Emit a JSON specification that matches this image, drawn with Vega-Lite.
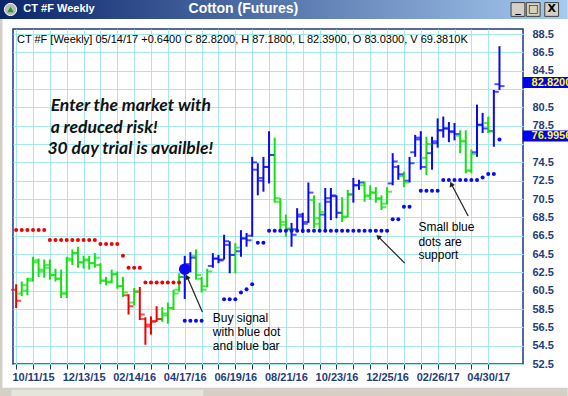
{
  "$schema": "https://vega.github.io/schema/vega-lite/v6.json",
  "width": 510,
  "height": 335,
  "autosize": {"type": "none"},
  "padding": {"left": 13, "top": 29, "right": 45, "bottom": 32},
  "background": "#ffffff",
  "config": {
    "view": {"stroke": "#1c3a7a", "strokeWidth": 1.5},
    "font": "Liberation Sans",
    "text": {"font": "Liberation Sans"}
  },
  "resolve": {"axis": {"x": "independent", "y": "independent"}},
  "datasets": {
    "bars": [
      {"date":"2015-09-20","open":60.6,"high":61.2,"low":58.6,"close":59.4,"trend":"bear"},
      {"date":"2015-09-27","open":60.2,"high":61.5,"low":59.9,"close":61.1,"trend":"neutral"},
      {"date":"2015-10-04","open":60.5,"high":61.9,"low":60.0,"close":61.6,"trend":"neutral"},
      {"date":"2015-10-11","open":61.8,"high":64.2,"low":61.5,"close":63.8,"trend":"neutral"},
      {"date":"2015-10-18","open":63.6,"high":64.0,"low":62.0,"close":62.8,"trend":"neutral"},
      {"date":"2015-10-25","open":62.6,"high":63.9,"low":61.9,"close":63.3,"trend":"neutral"},
      {"date":"2015-11-01","open":63.0,"high":63.9,"low":61.7,"close":62.2,"trend":"neutral"},
      {"date":"2015-11-08","open":62.2,"high":62.9,"low":61.5,"close":61.8,"trend":"neutral"},
      {"date":"2015-11-15","open":61.8,"high":62.8,"low":59.7,"close":60.2,"trend":"neutral"},
      {"date":"2015-11-22","open":60.2,"high":64.2,"low":59.7,"close":64.0,"trend":"neutral"},
      {"date":"2015-11-29","open":63.8,"high":65.0,"low":63.3,"close":64.6,"trend":"neutral"},
      {"date":"2015-12-06","open":64.6,"high":65.3,"low":63.0,"close":63.6,"trend":"neutral"},
      {"date":"2015-12-13","open":63.6,"high":64.3,"low":62.9,"close":63.9,"trend":"neutral"},
      {"date":"2015-12-20","open":63.8,"high":64.3,"low":62.8,"close":63.5,"trend":"neutral"},
      {"date":"2015-12-27","open":63.5,"high":64.6,"low":63.0,"close":64.1,"trend":"neutral"},
      {"date":"2016-01-03","open":63.3,"high":63.5,"low":61.2,"close":61.6,"trend":"neutral"},
      {"date":"2016-01-10","open":61.6,"high":62.0,"low":61.1,"close":61.4,"trend":"neutral"},
      {"date":"2016-01-17","open":61.5,"high":62.8,"low":61.3,"close":62.3,"trend":"neutral"},
      {"date":"2016-01-24","open":62.3,"high":62.6,"low":60.7,"close":61.0,"trend":"neutral"},
      {"date":"2016-01-31","open":61.0,"high":62.0,"low":59.8,"close":60.3,"trend":"neutral"},
      {"date":"2016-02-07","open":60.0,"high":60.1,"low":57.9,"close":58.8,"trend":"bear"},
      {"date":"2016-02-14","open":59.2,"high":60.8,"low":58.9,"close":60.4,"trend":"neutral"},
      {"date":"2016-02-21","open":60.4,"high":60.9,"low":57.3,"close":57.9,"trend":"bear"},
      {"date":"2016-02-28","open":57.4,"high":57.6,"low":54.6,"close":56.8,"trend":"bear"},
      {"date":"2016-03-06","open":56.6,"high":57.7,"low":55.7,"close":57.1,"trend":"bear"},
      {"date":"2016-03-13","open":57.2,"high":58.8,"low":57.1,"close":57.4,"trend":"bear"},
      {"date":"2016-03-20","open":57.4,"high":58.7,"low":57.1,"close":58.0,"trend":"neutral"},
      {"date":"2016-03-27","open":57.8,"high":59.2,"low":56.9,"close":58.6,"trend":"neutral"},
      {"date":"2016-04-03","open":58.6,"high":60.6,"low":58.4,"close":60.2,"trend":"neutral"},
      {"date":"2016-04-10","open":60.6,"high":62.4,"low":60.4,"close":62.0,"trend":"neutral"},
      {"date":"2016-04-17","open":62.0,"high":64.3,"low":59.6,"close":63.2,"trend":"bull"},
      {"date":"2016-04-24","open":63.4,"high":64.7,"low":62.5,"close":64.1,"trend":"bull"},
      {"date":"2016-05-01","open":64.3,"high":65.0,"low":61.7,"close":62.2,"trend":"neutral"},
      {"date":"2016-05-08","open":61.8,"high":62.0,"low":60.3,"close":60.6,"trend":"neutral"},
      {"date":"2016-05-15","open":61.0,"high":62.9,"low":60.9,"close":62.6,"trend":"neutral"},
      {"date":"2016-05-22","open":63.2,"high":64.6,"low":63.0,"close":64.0,"trend":"bull"},
      {"date":"2016-05-29","open":64.0,"high":64.4,"low":63.5,"close":63.8,"trend":"bull"},
      {"date":"2016-06-05","open":63.9,"high":66.6,"low":63.9,"close":65.9,"trend":"bull"},
      {"date":"2016-06-12","open":65.5,"high":65.9,"low":62.4,"close":64.4,"trend":"bull"},
      {"date":"2016-06-19","open":64.4,"high":65.7,"low":62.4,"close":65.2,"trend":"neutral"},
      {"date":"2016-06-26","open":64.8,"high":67.1,"low":64.2,"close":66.2,"trend":"bull"},
      {"date":"2016-07-03","open":66.2,"high":66.8,"low":65.3,"close":66.0,"trend":"bull"},
      {"date":"2016-07-10","open":66.5,"high":75.1,"low":66.4,"close":74.5,"trend":"bull"},
      {"date":"2016-07-17","open":73.7,"high":74.4,"low":70.9,"close":72.5,"trend":"bull"},
      {"date":"2016-07-24","open":72.8,"high":75.1,"low":71.3,"close":74.0,"trend":"bull"},
      {"date":"2016-07-31","open":74.0,"high":77.9,"low":72.2,"close":75.3,"trend":"bull"},
      {"date":"2016-08-07","open":75.3,"high":77.2,"low":70.1,"close":70.6,"trend":"neutral"},
      {"date":"2016-08-14","open":70.2,"high":70.6,"low":67.1,"close":68.0,"trend":"neutral"},
      {"date":"2016-08-21","open":67.7,"high":68.8,"low":66.4,"close":67.3,"trend":"neutral"},
      {"date":"2016-08-28","open":67.2,"high":67.9,"low":65.3,"close":66.6,"trend":"bull"},
      {"date":"2016-09-04","open":67.2,"high":69.5,"low":67.1,"close":68.8,"trend":"bull"},
      {"date":"2016-09-11","open":68.6,"high":69.0,"low":66.8,"close":67.8,"trend":"bull"},
      {"date":"2016-09-18","open":68.0,"high":72.3,"low":67.9,"close":71.2,"trend":"bull"},
      {"date":"2016-09-25","open":70.4,"high":70.9,"low":67.3,"close":67.8,"trend":"neutral"},
      {"date":"2016-10-02","open":68.4,"high":70.1,"low":67.1,"close":69.1,"trend":"neutral"},
      {"date":"2016-10-09","open":68.8,"high":71.7,"low":66.9,"close":70.6,"trend":"bull"},
      {"date":"2016-10-16","open":70.2,"high":71.7,"low":68.2,"close":70.9,"trend":"bull"},
      {"date":"2016-10-23","open":70.8,"high":70.9,"low":68.4,"close":69.0,"trend":"bull"},
      {"date":"2016-10-30","open":69.0,"high":70.7,"low":68.0,"close":68.5,"trend":"neutral"},
      {"date":"2016-11-06","open":68.6,"high":71.5,"low":68.5,"close":71.0,"trend":"neutral"},
      {"date":"2016-11-13","open":71.0,"high":72.8,"low":70.1,"close":72.0,"trend":"bull"},
      {"date":"2016-11-20","open":72.0,"high":72.6,"low":71.5,"close":72.3,"trend":"bull"},
      {"date":"2016-11-27","open":72.0,"high":72.4,"low":70.2,"close":70.8,"trend":"neutral"},
      {"date":"2016-12-04","open":70.9,"high":72.0,"low":70.4,"close":71.2,"trend":"neutral"},
      {"date":"2016-12-11","open":71.2,"high":71.8,"low":70.1,"close":70.6,"trend":"neutral"},
      {"date":"2016-12-18","open":70.5,"high":70.9,"low":69.3,"close":69.6,"trend":"neutral"},
      {"date":"2016-12-25","open":70.0,"high":71.8,"low":69.9,"close":71.3,"trend":"neutral"},
      {"date":"2017-01-01","open":72.2,"high":75.5,"low":72.0,"close":74.6,"trend":"bull"},
      {"date":"2017-01-08","open":74.0,"high":74.2,"low":72.6,"close":73.2,"trend":"bull"},
      {"date":"2017-01-15","open":73.0,"high":73.5,"low":71.8,"close":72.3,"trend":"neutral"},
      {"date":"2017-01-22","open":72.5,"high":75.1,"low":72.3,"close":74.4,"trend":"bull"},
      {"date":"2017-01-29","open":75.6,"high":77.5,"low":75.1,"close":77.0,"trend":"bull"},
      {"date":"2017-02-05","open":77.2,"high":77.9,"low":73.7,"close":74.0,"trend":"bull"},
      {"date":"2017-02-12","open":75.0,"high":77.3,"low":73.1,"close":76.5,"trend":"neutral"},
      {"date":"2017-02-19","open":75.5,"high":77.3,"low":73.7,"close":76.6,"trend":"bull"},
      {"date":"2017-02-26","open":76.8,"high":79.3,"low":76.1,"close":78.0,"trend":"bull"},
      {"date":"2017-03-05","open":78.0,"high":79.5,"low":77.2,"close":78.2,"trend":"bull"},
      {"date":"2017-03-12","open":78.2,"high":78.9,"low":76.7,"close":77.9,"trend":"bull"},
      {"date":"2017-03-19","open":77.8,"high":78.8,"low":76.9,"close":77.6,"trend":"bull"},
      {"date":"2017-03-26","open":77.4,"high":78.0,"low":75.5,"close":76.8,"trend":"neutral"},
      {"date":"2017-04-02","open":76.8,"high":78.0,"low":73.3,"close":73.6,"trend":"neutral"},
      {"date":"2017-04-09","open":73.6,"high":75.9,"low":73.3,"close":75.4,"trend":"neutral"},
      {"date":"2017-04-16","open":75.6,"high":80.8,"low":75.1,"close":78.6,"trend":"bull"},
      {"date":"2017-04-23","open":78.6,"high":79.9,"low":77.7,"close":78.2,"trend":"bull"},
      {"date":"2017-04-30","open":78.8,"high":79.5,"low":77.7,"close":77.9,"trend":"neutral"},
      {"date":"2017-05-07","open":77.9,"high":82.4,"low":76.2,"close":82.2,"trend":"bull"},
      {"date":"2017-05-14","open":83.03,"high":87.18,"low":82.39,"close":82.82,"trend":"bull"}
    ],
    "resistance": [
      {"date":"2015-09-20","price":67.13},{"date":"2015-09-27","price":67.13},{"date":"2015-10-04","price":67.13},
      {"date":"2015-10-11","price":67.13},{"date":"2015-10-18","price":67.13},{"date":"2015-10-25","price":67.13},
      {"date":"2015-11-01","price":66.04},{"date":"2015-11-08","price":66.04},{"date":"2015-11-15","price":66.04},
      {"date":"2015-11-22","price":66.04},{"date":"2015-11-29","price":66.04},{"date":"2015-12-06","price":66.04},
      {"date":"2015-12-13","price":66.04},{"date":"2015-12-20","price":66.04},{"date":"2015-12-27","price":66.04},
      {"date":"2016-01-03","price":65.6},{"date":"2016-01-10","price":65.6},{"date":"2016-01-17","price":65.6},
      {"date":"2016-01-24","price":65.6},{"date":"2016-01-31","price":64.3},
      {"date":"2016-02-07","price":63.0},{"date":"2016-02-14","price":63.0},{"date":"2016-02-21","price":63.0},
      {"date":"2016-02-28","price":61.4},{"date":"2016-03-06","price":61.4},{"date":"2016-03-13","price":61.4},
      {"date":"2016-03-20","price":61.4},{"date":"2016-03-27","price":61.4},{"date":"2016-04-03","price":61.4},
      {"date":"2016-04-10","price":61.4}
    ],
    "support": [
      {"date":"2016-04-17","price":57.23},{"date":"2016-04-24","price":57.23},{"date":"2016-05-01","price":57.23},
      {"date":"2016-05-08","price":57.23},
      {"date":"2016-06-05","price":59.57},{"date":"2016-06-12","price":59.57},{"date":"2016-06-19","price":59.57},
      {"date":"2016-06-26","price":60.29},{"date":"2016-07-03","price":60.66},{"date":"2016-07-10","price":61.2},
      {"date":"2016-07-17","price":65.74},{"date":"2016-07-24","price":65.74},
      {"date":"2016-07-31","price":67.05},{"date":"2016-08-07","price":67.05},{"date":"2016-08-14","price":67.05},
      {"date":"2016-08-21","price":67.05},{"date":"2016-08-28","price":67.05},{"date":"2016-09-04","price":67.05},
      {"date":"2016-09-11","price":67.05},{"date":"2016-09-18","price":67.05},{"date":"2016-09-25","price":67.05},
      {"date":"2016-10-02","price":67.05},{"date":"2016-10-09","price":67.05},{"date":"2016-10-16","price":67.05},
      {"date":"2016-10-23","price":67.05},{"date":"2016-10-30","price":67.05},{"date":"2016-11-06","price":67.05},
      {"date":"2016-11-13","price":67.05},{"date":"2016-11-20","price":67.05},{"date":"2016-11-27","price":67.05},
      {"date":"2016-12-04","price":67.05},{"date":"2016-12-11","price":67.05},{"date":"2016-12-18","price":67.05},
      {"date":"2016-12-25","price":67.05},
      {"date":"2017-01-01","price":68.3},{"date":"2017-01-08","price":68.3},
      {"date":"2017-01-15","price":69.67},{"date":"2017-01-22","price":69.67},
      {"date":"2017-02-05","price":71.41},{"date":"2017-02-12","price":71.41},{"date":"2017-02-19","price":71.41},
      {"date":"2017-02-26","price":71.41},
      {"date":"2017-03-05","price":72.58},{"date":"2017-03-12","price":72.58},{"date":"2017-03-19","price":72.58},
      {"date":"2017-03-26","price":72.58},{"date":"2017-04-02","price":72.58},{"date":"2017-04-09","price":72.58},
      {"date":"2017-04-16","price":72.58},{"date":"2017-04-23","price":72.85},
      {"date":"2017-04-30","price":73.23},{"date":"2017-05-07","price":73.23},
      {"date":"2017-05-14","price":76.9956}
    ],
    "signal": [{"date":"2016-04-17","price":62.84}],
    "promo": [
      {"date":"2015-11-02","price":80.05,"text":"Enter the market with"},
      {"date":"2015-11-02","price":77.67,"text":"a reduced risk!"},
      {"date":"2015-10-29","price":75.41,"text":"30 day trial is availble!"}
    ],
    "callouts": [
      {"date":"2016-05-22","price":57.53,"text":"Buy signal"},
      {"date":"2016-05-22","price":56.0,"text":"with blue dot"},
      {"date":"2016-05-22","price":54.48,"text":"and blue bar"},
      {"date":"2017-02-02","price":67.45,"text":"Small blue"},
      {"date":"2017-02-02","price":65.82,"text":"dots are"},
      {"date":"2017-02-02","price":64.4,"text":"support"}
    ],
    "arrows": [
      {"id":"buy","date":"2016-05-09","price":58.18,"date2":"2016-04-20","price2":62.0},
      {"id":"sup1","date":"2017-01-16","price":63.5,"date2":"2016-12-14","price2":66.4},
      {"id":"sup2","date":"2017-04-05","price":68.65,"date2":"2017-03-15","price2":72.14}
    ],
    "header": [
      {"date":"2015-09-21","price":87.85,"text":"CT #F [Weekly] 05/14/17  +0.6400 C 82.8200, H 87.1800, L 82.3900, O 83.0300, V 69.3810K"}
    ],
    "lastValues": [
      {"price":82.82,"text":"82.8200"},
      {"price":76.9956,"text":"76.9956"}
    ],
    "windowTitle": [{"date":"2016-06-29","price":91.18,"text":"Cotton (Futures)"}],
    "windowName": [{"date":"2015-09-29","price":91.18,"text":"CT #F Weekly"}],
    "buttons": [
      {"date":"2017-06-06","price":91.18,"glyph":"_"},
      {"date":"2017-06-25","price":91.18,"glyph":"□"},
      {"date":"2017-07-18","price":91.18,"glyph":"X"}
    ],
    "icon": [{"date":"2015-09-13","price":91.18}]
  },
  "layer": [
    {
      "data": {"name": "bars"},
      "mark": {"type": "rule", "strokeWidth": 2},
      "encoding": {
        "x": {
          "field": "date", "type": "temporal",
          "scale": {"type": "utc", "domain": [1442369376000, 1497251520000]},
          "axis": {
            "title": null,
            "values": [1442707200000,1444521600000,1446336000000,1448150400000,1449964800000,1451779200000,1453593600000,1455408000000,1457222400000,1459036800000,1460851200000,1462665600000,1464480000000,1466294400000,1468108800000,1469923200000,1471737600000,1473552000000,1475366400000,1477180800000,1478995200000,1480809600000,1482624000000,1484438400000,1486252800000,1488067200000,1489881600000,1491696000000,1493510400000],
            "labelExpr": "round((datum.value - 1444521600000) / 604800000) % 9 == 0 ? utcFormat(datum.value, '%m/%d/%y') : ''",
            "grid": true, "gridColor": "#a8e8ea", "gridWidth": 1,
            "domain": false, "ticks": true, "tickColor": "#1c3a7a", "tickSize": 5, "tickWidth": 1,
            "labelFont": "Liberation Sans", "labelFontSize": 11, "labelFontWeight": "bold",
            "labelColor": "#1f3c7a", "labelPadding": 2, "labelOverlap": false, "labelFlush": false
          }
        },
        "y": {
          "field": "low", "type": "quantitative",
          "scale": {"domain": [52.5, 89.05], "zero": false, "nice": false},
          "axis": {
            "title": null, "orient": "right",
            "values": [52.5,54.5,56.5,58.5,60.5,62.5,64.5,66.5,68.5,70.5,72.5,74.5,76.5,78.5,80.5,82.5,84.5,86.5,88.5],
            "labelExpr": "datum.value == 82.5 || datum.value == 76.5 ? '' : format(datum.value, '.1f')",
            "grid": true, "gridColor": "#a8e8ea", "gridWidth": 1,
            "domain": false, "ticks": false, "labelPadding": 9, "labelOverlap": false,
            "labelFont": "Liberation Sans", "labelFontSize": 11, "labelFontWeight": "bold",
            "labelColor": "#1f3c7a", "labelBaseline": "middle"
          }
        },
        "y2": {"field": "high"},
        "color": {
          "field": "trend", "type": "nominal",
          "scale": {"domain": ["bull", "neutral", "bear"], "range": ["#0a0af0", "#14e014", "#f00000"]},
          "legend": null
        }
      }
    },
    {
      "data": {"name": "bars"},
      "mark": {"type": "tick", "orient": "horizontal", "size": 5, "thickness": 2, "xOffset": -2.5},
      "encoding": {
        "x": {"field": "date", "type": "temporal", "axis": null},
        "y": {"field": "open", "type": "quantitative", "axis": null},
        "color": {"field": "trend", "type": "nominal", "legend": null}
      }
    },
    {
      "data": {"name": "bars"},
      "mark": {"type": "tick", "orient": "horizontal", "size": 5, "thickness": 2, "xOffset": 2.5},
      "encoding": {
        "x": {"field": "date", "type": "temporal", "axis": null},
        "y": {"field": "close", "type": "quantitative", "axis": null},
        "color": {"field": "trend", "type": "nominal", "legend": null}
      }
    },
    {
      "data": {"name": "resistance"},
      "mark": {"type": "circle", "size": 16, "color": "#f00000", "opacity": 1},
      "encoding": {
        "x": {"field": "date", "type": "temporal", "axis": null},
        "y": {"field": "price", "type": "quantitative", "axis": null}
      }
    },
    {
      "data": {"name": "support"},
      "mark": {"type": "circle", "size": 16, "color": "#0a0af0", "opacity": 1},
      "encoding": {
        "x": {"field": "date", "type": "temporal", "axis": null},
        "y": {"field": "price", "type": "quantitative", "axis": null}
      }
    },
    {
      "data": {"name": "signal"},
      "mark": {"type": "circle", "size": 135, "color": "#0a0af0", "opacity": 1},
      "encoding": {
        "x": {"field": "date", "type": "temporal", "axis": null},
        "y": {"field": "price", "type": "quantitative", "axis": null}
      }
    },
    {
      "data": {"name": "arrows"},
      "mark": {"type": "rule", "strokeWidth": 1.2, "color": "#202020"},
      "encoding": {
        "x": {"field": "date", "type": "temporal", "axis": null},
        "y": {"field": "price", "type": "quantitative", "axis": null},
        "x2": {"field": "date2"},
        "y2": {"field": "price2"}
      }
    },
    {
      "data": {"name": "arrows"},
      "transform": [{"filter": "datum.id != 'sup1'"}],
      "mark": {"type": "point", "shape": "triangle-up", "filled": true, "size": 32, "color": "#202020", "opacity": 1, "angle": 336},
      "encoding": {
        "x": {"field": "date2", "type": "temporal", "axis": null},
        "y": {"field": "price2", "type": "quantitative", "axis": null}
      }
    },
    {
      "data": {"name": "arrows"},
      "transform": [{"filter": "datum.id == 'sup1'"}],
      "mark": {"type": "point", "shape": "triangle-up", "filled": true, "size": 32, "color": "#202020", "opacity": 1, "angle": 314},
      "encoding": {
        "x": {"field": "date2", "type": "temporal", "axis": null},
        "y": {"field": "price2", "type": "quantitative", "axis": null}
      }
    },
    {
      "data": {"name": "promo"},
      "mark": {"type": "text", "font": "Lato", "fontStyle": "italic", "fontWeight": "bold", "fontSize": 17.5, "color": "#111111", "align": "left", "baseline": "alphabetic"},
      "encoding": {
        "x": {"field": "date", "type": "temporal", "axis": null},
        "y": {"field": "price", "type": "quantitative", "axis": null},
        "text": {"field": "text"}
      }
    },
    {
      "data": {"name": "callouts"},
      "mark": {"type": "text", "font": "Liberation Sans", "fontSize": 12, "color": "#000000", "align": "left", "baseline": "middle"},
      "encoding": {
        "x": {"field": "date", "type": "temporal", "axis": null},
        "y": {"field": "price", "type": "quantitative", "axis": null},
        "text": {"field": "text"}
      }
    },
    {
      "data": {"name": "header"},
      "mark": {"type": "text", "font": "Liberation Sans", "fontSize": 11, "color": "#000000", "align": "left", "baseline": "middle"},
      "encoding": {
        "x": {"field": "date", "type": "temporal", "axis": null},
        "y": {"field": "price", "type": "quantitative", "axis": null},
        "text": {"field": "text"}
      }
    },
    {
      "data": {"name": "lastValues"},
      "mark": {"type": "rule", "strokeWidth": 11, "color": "#0000f0", "yOffset": -3.5},
      "encoding": {
        "x": {"datum": {"year": 2017, "month": 6, "date": 12, "utc": true}, "type": "temporal", "axis": null},
        "x2": {"datum": {"year": 2017, "month": 8, "date": 20, "utc": true}},
        "y": {"field": "price", "type": "quantitative", "axis": null}
      }
    },
    {
      "data": {"name": "lastValues"},
      "mark": {"type": "text", "font": "Liberation Sans", "fontSize": 11, "fontWeight": "bold", "color": "#ffff00", "align": "left", "baseline": "middle", "yOffset": -3.5},
      "encoding": {
        "x": {"datum": {"year": 2017, "month": 6, "date": 23, "utc": true}, "type": "temporal", "axis": null},
        "y": {"field": "price", "type": "quantitative", "axis": null},
        "text": {"field": "text"}
      }
    },
    {
      "data": {"values": [{}]},
      "mark": {"type": "rect", "color": {"gradient": "linear", "x1": 0, "y1": 0, "x2": 1, "y2": 0, "stops": [{"offset": 0, "color": "#0a246a"}, {"offset": 1, "color": "#a6caf0"}]}},
      "encoding": {
        "x": {"datum": {"year": 2015, "month": 8, "date": 30, "utc": true}, "type": "temporal", "axis": null},
        "x2": {"datum": {"year": 2017, "month": 8, "date": 7, "utc": true}},
        "y": {"datum": 92.5, "type": "quantitative", "axis": null},
        "y2": {"datum": 90.14}
      }
    },
    {
      "data": {"values": [{}]},
      "mark": {"type": "rect", "color": "#d4d0c8"},
      "encoding": {
        "x": {"datum": {"year": 2015, "month": 8, "date": 30, "utc": true}, "type": "temporal", "axis": null},
        "x2": {"datum": {"year": 2017, "month": 8, "date": 7, "utc": true}},
        "y": {"datum": 49.9, "type": "quantitative", "axis": null},
        "y2": {"datum": 48.0}
      }
    },
    {
      "data": {"values": [{}]},
      "mark": {"type": "rect", "color": "#e6e4de"},
      "encoding": {
        "x": {"datum": {"year": 2015, "month": 9, "date": 14, "utc": true}, "type": "temporal", "axis": null},
        "x2": {"datum": {"year": 2016, "month": 5, "date": 10, "utc": true}},
        "y": {"datum": 49.7, "type": "quantitative", "axis": null},
        "y2": {"datum": 48.0}
      }
    },
    {
      "data": {"values": [{}]},
      "mark": {"type": "rect", "color": "#d4d0c8"},
      "encoding": {
        "x": {"datum": {"year": 2015, "month": 8, "date": 30, "utc": true}, "type": "temporal", "axis": null},
        "x2": {"datum": {"year": 2015, "month": 9, "date": 3, "utc": true}},
        "y": {"datum": 90.14, "type": "quantitative", "axis": null},
        "y2": {"datum": 48.0}
      }
    },
    {
      "data": {"name": "icon"},
      "mark": {"type": "circle", "size": 150, "color": "#b8b8b8", "opacity": 1, "stroke": "#ffffff", "strokeWidth": 1},
      "encoding": {
        "x": {"field": "date", "type": "temporal", "axis": null},
        "y": {"field": "price", "type": "quantitative", "axis": null}
      }
    },
    {
      "data": {"name": "icon"},
      "mark": {"type": "point", "shape": "triangle-up", "filled": true, "size": 40, "color": "#1e9e1e", "opacity": 1},
      "encoding": {
        "x": {"field": "date", "type": "temporal", "axis": null},
        "y": {"field": "price", "type": "quantitative", "axis": null}
      }
    },
    {
      "data": {"name": "windowName"},
      "mark": {"type": "text", "font": "Liberation Sans", "fontSize": 11, "fontWeight": "bold", "color": "#ffffff", "align": "left", "baseline": "middle"},
      "encoding": {
        "x": {"field": "date", "type": "temporal", "axis": null},
        "y": {"field": "price", "type": "quantitative", "axis": null},
        "text": {"field": "text"}
      }
    },
    {
      "data": {"name": "windowTitle"},
      "mark": {"type": "text", "font": "Liberation Sans", "fontSize": 14, "fontWeight": "bold", "color": "#ffffff", "align": "center", "baseline": "middle"},
      "encoding": {
        "x": {"field": "date", "type": "temporal", "axis": null},
        "y": {"field": "price", "type": "quantitative", "axis": null},
        "text": {"field": "text"}
      }
    },
    {
      "data": {"name": "buttons"},
      "mark": {"type": "square", "size": 190, "color": "#d4d0c8", "opacity": 1, "stroke": "#404040", "strokeWidth": 1},
      "encoding": {
        "x": {"field": "date", "type": "temporal", "axis": null},
        "y": {"field": "price", "type": "quantitative", "axis": null}
      }
    },
    {
      "data": {"name": "buttons"},
      "mark": {"type": "text", "font": "DejaVu Sans", "fontSize": 11, "fontWeight": "bold", "color": "#000000", "align": "center", "baseline": "middle"},
      "encoding": {
        "x": {"field": "date", "type": "temporal", "axis": null},
        "y": {"field": "price", "type": "quantitative", "axis": null},
        "text": {"field": "glyph"}
      }
    }
  ]
}
